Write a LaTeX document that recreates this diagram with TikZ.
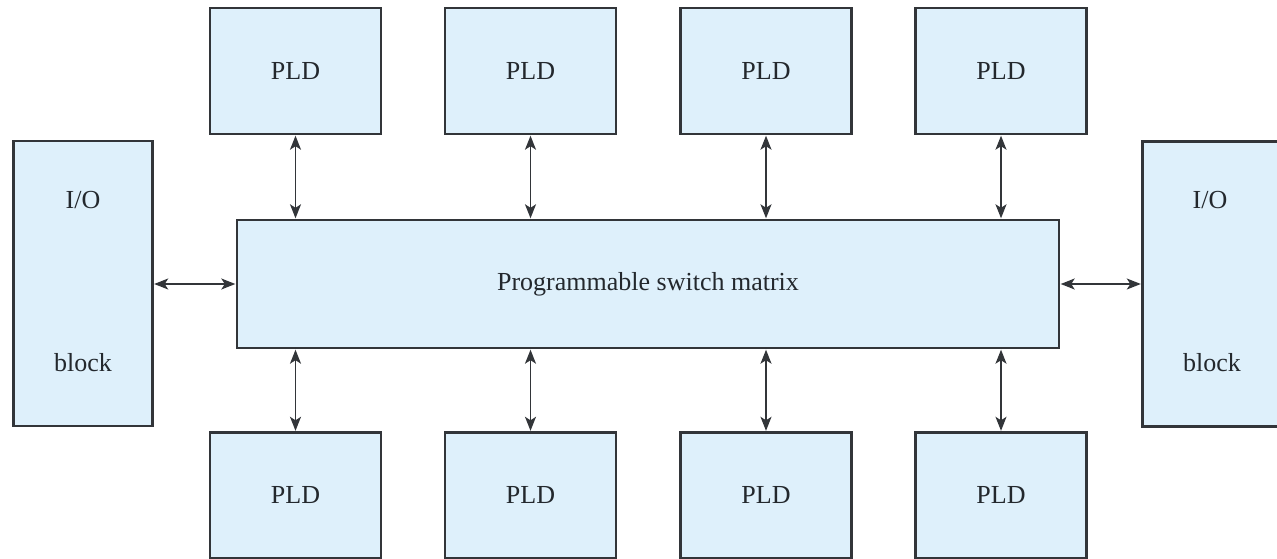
\documentclass[tikz,border=0pt]{standalone}
\usepackage{fontspec}
\setmainfont{Liberation Serif}
\newfontfamily\labelfont{Liberation Serif}
\usetikzlibrary{arrows.meta}
\definecolor{boxfill}{RGB}{222,240,251}
\definecolor{boxline}{RGB}{50,53,57}
\definecolor{ink}{RGB}{35,40,45}
\begin{document}
\begin{tikzpicture}[x=1pt,y=-1pt,
  box/.style={draw=boxline, line width=2.2pt, fill=boxfill, inner sep=0pt,
    font=\labelfont\fontsize{26}{31}\selectfont, text=ink},
  pld/.style={box, minimum width=171pt, minimum height=126pt},
  iobox/.style={box, minimum width=139pt, minimum height=285pt},
  lbl/.style={inner sep=0pt, font=\labelfont\fontsize{26}{31}\selectfont, text=ink},
  link/.style={draw=boxline, line width=1.5pt, shorten <=0.6pt, shorten >=0.6pt,
    {Stealth[length=14pt,width=11pt,inset=3.5pt]}-{Stealth[length=14pt,width=11pt,inset=3.5pt]}}]
\useasboundingbox (0,0) rectangle (1277,559);
\clip (0,0) rectangle (1277,559);

% switch matrix
\node[box, minimum width=822pt, minimum height=128pt] (sw) at (648,284) {Programmable switch matrix};

% top and bottom rows of PLDs
\foreach \i/\x in {1/295.5, 2/530.5, 3/766, 4/1001} {
  \node[pld] (t\i) at (\x,71) {PLD};
  \node[pld] (b\i) at (\x,495.5) {PLD};
  \draw[link] (t\i.south) -- (t\i.south |- sw.north);
  \draw[link] (sw.south -| b\i.north) -- (b\i.north);
}

% I/O blocks
\node[iobox] (ioL) at (83,283.5) {};
\node[lbl] (ioLa) at (83,200) {I/O};
\node[lbl] (ioLb) at (83,363) {block};
\node[iobox] (ioR) at (1212,284) {};
\node[lbl] (ioRa) at (1210,200) {I/O};
\node[lbl] (ioRb) at (1212,363) {block};

\draw[link] (ioL.east |- sw.west) -- (sw.west);
\draw[link] (sw.east) -- (sw.east -| ioR.west);
\end{tikzpicture}
\end{document}
